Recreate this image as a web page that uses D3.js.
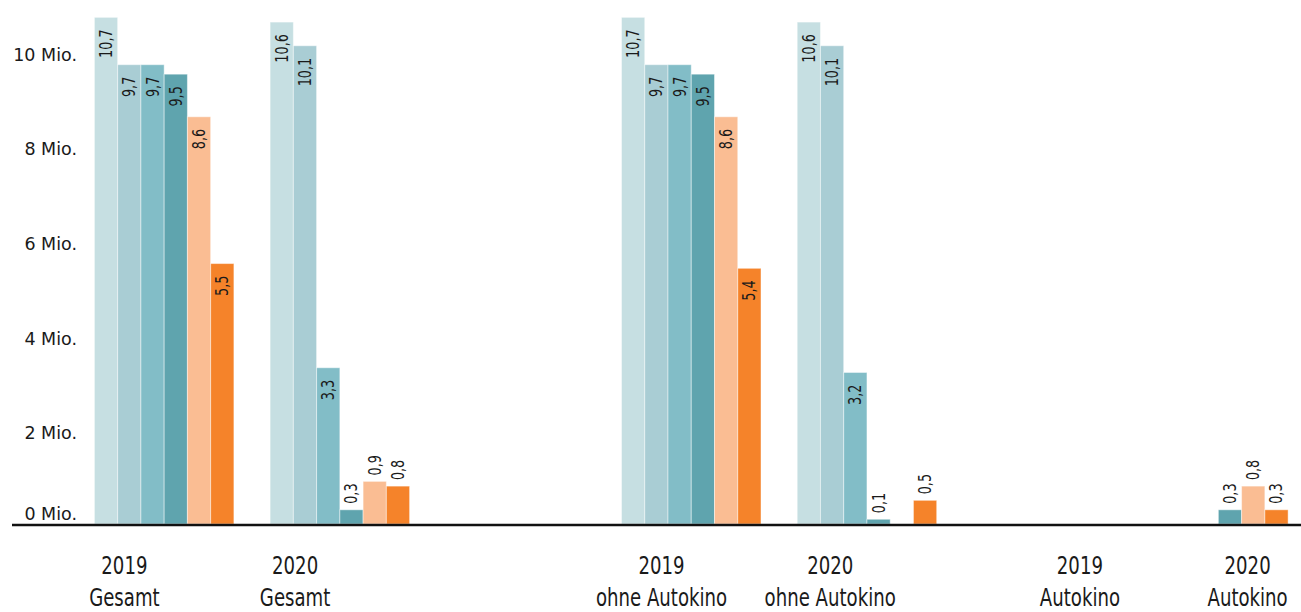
<!DOCTYPE html>
<html>
<head>
<meta charset="utf-8">
<script src="https://cdn.jsdelivr.net/npm/d3@7"></script>
<style>
    body { margin: 0; background: #fff; }
    svg { display: block; }
    .yLabel { font-family: "DejaVu Sans", sans-serif; font-size: 17.5px; fill: #1a1a1a; }
    .xLabel { font-family: "DejaVu Sans Condensed", "Liberation Sans Narrow", sans-serif; font-size: 24px; fill: #1a1a1a; }
    .valueText { font-family: "DejaVu Sans Condensed", "Liberation Sans Narrow", sans-serif; font-size: 17px; fill: #1a1a1a; }
</style>
</head>
<body>
<svg id="chart" width="1301" height="612"></svg>
<script>
// slots on the x axis (third one stays empty)
var years = ["2019", "2020", "", "2019", "2020", "2019", "2020"];
var kinds = ["Gesamt", "Gesamt", "", "ohne Autokino", "ohne Autokino", "Autokino", "Autokino"];

// six series, one value per slot (Mio.)
var series1 = [10.7, 10.6, null, 10.7, 10.6, null, null];
var series2 = [9.7, 10.1, null, 9.7, 10.1, null, null];
var series3 = [9.7, 3.3, null, 9.7, 3.2, null, null];
var series4 = [9.5, 0.3, null, 9.5, 0.1, null, 0.3];
var series5 = [8.6, 0.9, null, 8.6, null, null, 0.8];
var series6 = [5.5, 0.8, null, 5.4, 0.5, null, 0.3];

var yTicks = [0, 2, 4, 6, 8, 10];

var seriesColors = ["#c6dfe2", "#a9cdd4", "#82bdc7", "#5fa4ae", "#fabd93", "#f5832a"];

var width = 1301;
var baseline = 524;
var narrow = 0.84; // squeeze the condensed font a bit more
var allSeries = [series1, series2, series3, series4, series5, series6];

// label centres sit a bit off the groups in the original
var labelShift = [30, 25, 0, 40, 33, 107, 99];

var svg = d3.select("#chart");

var slotIds = d3.range(years.length);

var x = d3.scaleBand()
    .domain(slotIds)
    .range([94.4, 94.4 + 7 * 175.7 - 36.2])
    .paddingInner(36.2 / 175.7)
    .paddingOuter(0);

var xInner = d3.scaleBand()
    .domain(d3.range(allSeries.length))
    .range([0, x.bandwidth()]);

var y = d3.scaleLinear()
    .domain([0, 11])
    .range([baseline, baseline - 11 * 47.35]);

var de = d3.formatLocale({decimal: ",", thousands: ".", grouping: [3], currency: ["", " €"]});
var fmt = de.format(".1f");

// y axis labels
svg.append("g")
    .selectAll("text")
    .data(yTicks)
    .join("text")
    .attr("class", "yLabel")
    .attr("text-anchor", "end")
    .attr("x", 77)
    .attr("y", function (d) {
        return d === 0 ? y(d) - 4 : y(d) + 10;
    })
    .text(function (d) { return d + " Mio."; });

// bars
var bars = [];
for (var s = 0; s < allSeries.length; s++) {
    for (var i = 0; i < slotIds.length; i++) {
        if (allSeries[s][i] != null) {
            bars.push({slot: i, series: s, value: allSeries[s][i]});
        }
    }
}

svg.append("g")
    .selectAll("rect")
    .data(bars)
    .join("rect")
    .attr("x", function (d) { return x(d.slot) + xInner(d.series); })
    .attr("y", function (d) { return y(d.value); })
    .attr("width", xInner.bandwidth())
    .attr("height", function (d) { return y(0) - y(d.value); })
    .attr("fill", function (d) { return seriesColors[d.series]; })
    .attr("stroke", "#fff")
    .attr("stroke-opacity", 0.45)
    .attr("stroke-width", 1);

// rotated value labels: inside for tall bars, above for short ones
svg.append("g")
    .selectAll("text")
    .data(bars)
    .join("text")
    .attr("class", "valueText")
    .attr("transform", function (d) {
        var cx = x(d.slot) + xInner(d.series) + xInner.bandwidth() / 2 + 6;
        var cy = d.value < 1 ? y(d.value) - 6 : y(d.value) + 12;
        return "translate(" + cx + "," + cy + ") rotate(-90) scale(" + narrow + ",1)";
    })
    .attr("text-anchor", function (d) { return d.value < 1 ? "start" : "end"; })
    .text(function (d) { return fmt(d.value); });

// x axis line
svg.append("line")
    .attr("x1", 12)
    .attr("x2", width)
    .attr("y1", 525)
    .attr("y2", 525)
    .attr("stroke", "#111")
    .attr("stroke-width", 2.6);

// group labels, two lines
var xLabels = svg.append("g")
    .selectAll("text")
    .data(slotIds.filter(function (i) { return years[i] !== ""; }))
    .join("text")
    .attr("class", "xLabel")
    .attr("text-anchor", "middle")
    .attr("transform", function (i) {
        return "translate(" + (x(i) + labelShift[i]) + ",0) scale(" + narrow + ",1)";
    });

xLabels.append("tspan")
    .attr("x", 0)
    .attr("y", 574)
    .text(function (i) { return years[i]; });

xLabels.append("tspan")
    .attr("x", 0)
    .attr("y", 606)
    .text(function (i) { return kinds[i]; });
</script>
</body>
</html>
